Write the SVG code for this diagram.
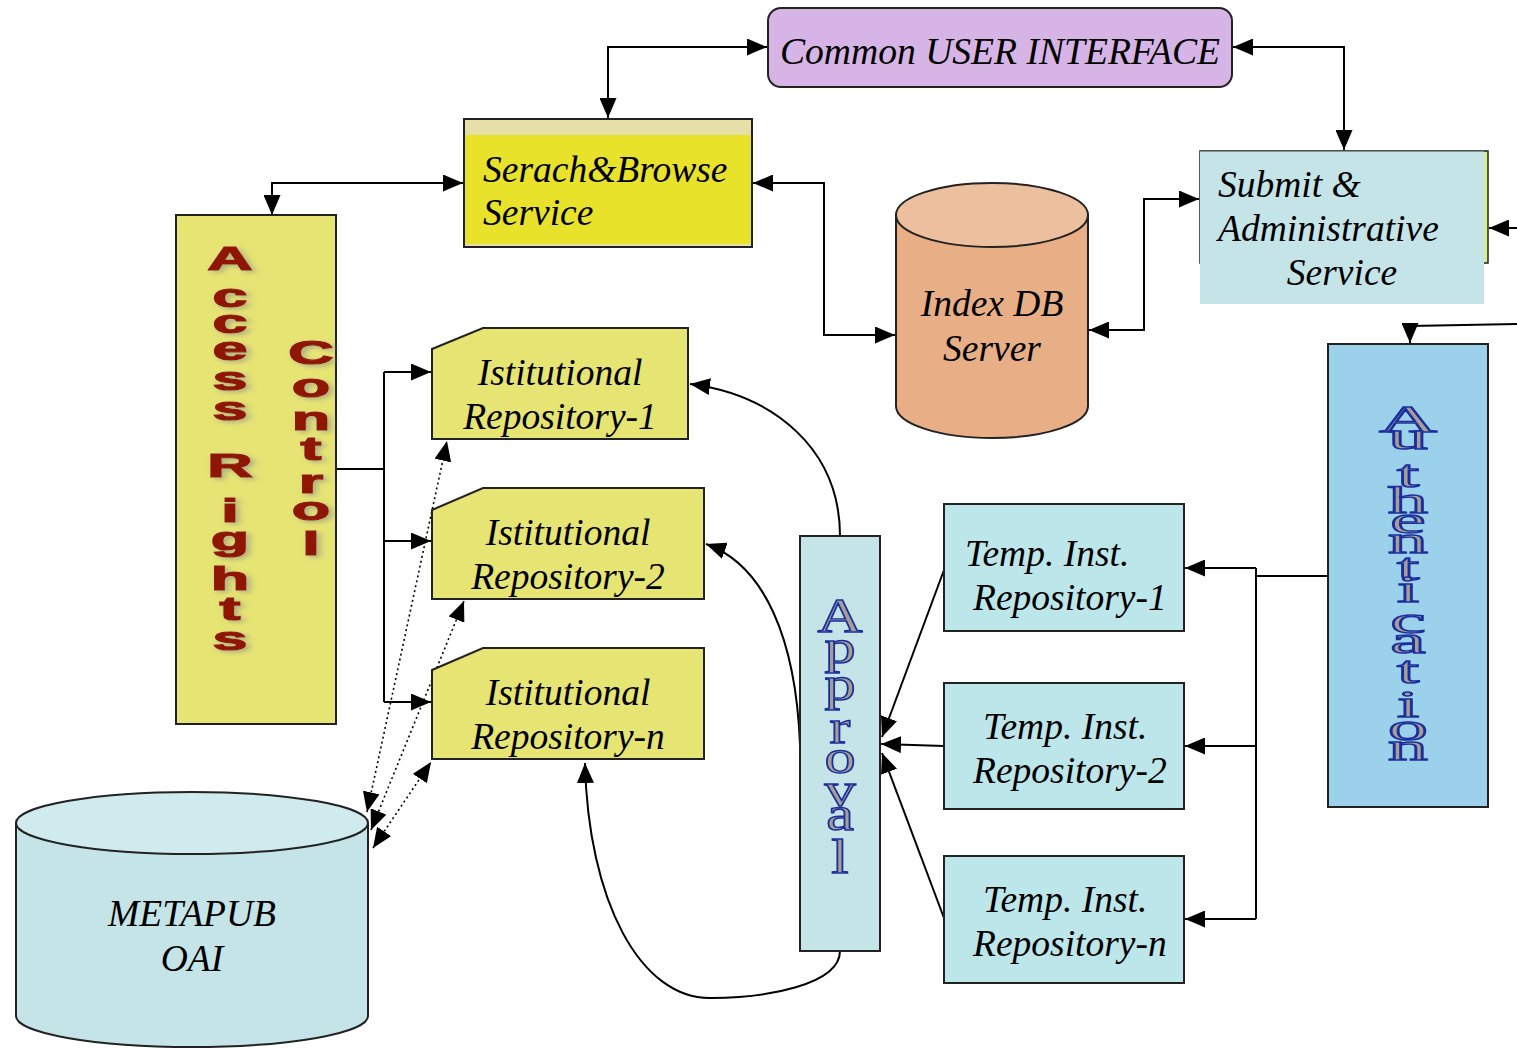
<svg xmlns="http://www.w3.org/2000/svg" width="1517" height="1048" viewBox="0 0 1517 1048">
<style>
.lbl{font-family:"Liberation Serif",serif;font-style:italic;font-size:37.5px;fill:#000}
.edge{fill:none;stroke:#000;stroke-width:2}
.dot{fill:none;stroke:#000;stroke-width:1.6;stroke-dasharray:2 3}
.box{stroke:#222;stroke-width:2}
.acr{font-family:"Liberation Sans",sans-serif;font-weight:bold;font-size:34px;fill:#8f1500;stroke:#8f1500;stroke-width:1.2;text-anchor:middle;filter:url(#sh)}
.fancy{font-family:"Liberation Serif",serif;fill:#a89e92;stroke:#1a2ea0;stroke-width:1.4;text-anchor:middle}
</style>
<defs>
<marker id="ah" viewBox="0 0 20 17" refX="20" refY="8.5" markerWidth="20" markerHeight="17" markerUnits="userSpaceOnUse" orient="auto-start-reverse">
<path d="M0,0 L20,8.5 L0,17 z" fill="#000"/>
</marker>
<filter id="sh" x="-30%" y="-30%" width="160%" height="160%">
<feDropShadow dx="2" dy="2" stdDeviation="2" flood-color="#888" flood-opacity="0.6"/>
</filter>
</defs>
<rect width="1517" height="1048" fill="#fff"/>

<g id="connectors">
<polyline class="edge" points="608,118 608,47 767,47" marker-start="url(#ah)" marker-end="url(#ah)"/>
<polyline class="edge" points="1233,47 1344,47 1344,150" marker-start="url(#ah)" marker-end="url(#ah)"/>
<polyline class="edge" points="272,215 272,183 463,183" marker-start="url(#ah)" marker-end="url(#ah)"/>
<polyline class="edge" points="753,183 824,183 824,335 895,335" marker-start="url(#ah)" marker-end="url(#ah)"/>
<polyline class="edge" points="1089,330 1144,330 1144,199 1199,199" marker-start="url(#ah)" marker-end="url(#ah)"/>
<polyline class="edge" points="1517,228 1489,228" marker-end="url(#ah)"/>
<polyline class="edge" points="1517,324 1410,326 1410,343" marker-end="url(#ah)"/>
<polyline class="edge" points="336,469 384,469"/>
<polyline class="edge" points="384,372 384,702"/>
<polyline class="edge" points="384,372 431,372" marker-end="url(#ah)"/>
<polyline class="edge" points="384,541 431,541" marker-end="url(#ah)"/>
<polyline class="edge" points="384,702 431,702" marker-end="url(#ah)"/>
<line class="dot" x1="367" y1="812" x2="447" y2="441" marker-start="url(#ah)" marker-end="url(#ah)"/>
<line class="dot" x1="371" y1="830" x2="464" y2="601" marker-start="url(#ah)" marker-end="url(#ah)"/>
<line class="dot" x1="373" y1="848" x2="431" y2="762" marker-start="url(#ah)" marker-end="url(#ah)"/>
<path class="edge" d="M840,536 C840,450 775,395 690,384" marker-end="url(#ah)"/>
<path class="edge" d="M800,745 C796,640 765,565 706,544" marker-end="url(#ah)"/>
<path class="edge" d="M840,951 C840,985 765,998 712,998 C640,1000 588,900 585,763" marker-end="url(#ah)"/>
<line class="edge" x1="944" y1="570" x2="882" y2="737" marker-end="url(#ah)"/>
<line class="edge" x1="944" y1="746" x2="881" y2="744" marker-end="url(#ah)"/>
<line class="edge" x1="944" y1="918" x2="882" y2="753" marker-end="url(#ah)"/>
<polyline class="edge" points="1328,576 1256,576"/>
<polyline class="edge" points="1256,568 1256,919"/>
<polyline class="edge" points="1256,568 1185,568" marker-end="url(#ah)"/>
<polyline class="edge" points="1256,746 1185,746" marker-end="url(#ah)"/>
<polyline class="edge" points="1256,919 1185,919" marker-end="url(#ah)"/>
</g>

<g id="common-ui">
<rect x="768" y="8" width="464" height="79" rx="13" fill="#d6b5e6" class="box"/>
<text class="lbl" x="780" y="64" font-size="44" textLength="440" lengthAdjust="spacingAndGlyphs">Common USER INTERFACE</text>
</g>

<g id="search-browse">
<rect x="464" y="119" width="288" height="128" fill="#e6dfa8" class="box"/>
<rect x="465" y="135" width="286" height="109" fill="#e8e22a"/>
<text class="lbl" x="483" y="182">Serach&amp;Browse</text>
<text class="lbl" x="483" y="225">Service</text>
</g>

<g id="index-db">
<path d="M896,215 L896,406 A96,32 0 0 0 1088,406 L1088,215" fill="#e8ae85" class="box"/>
<ellipse cx="992" cy="215" rx="96" ry="32" fill="#ecc09e" class="box"/>
<text class="lbl" x="992" y="316" text-anchor="middle">Index DB</text>
<text class="lbl" x="992" y="361" text-anchor="middle">Server</text>
</g>

<g id="submit-admin">
<rect x="1200" y="151" width="288" height="112" fill="#d4ed8c" stroke="#222" stroke-width="1.5"/>
<rect x="1200" y="151" width="284" height="153" fill="#c5e4e8"/>
<line x1="1200" y1="151" x2="1488" y2="151" stroke="#444" stroke-width="1"/>
<text class="lbl" x="1218" y="197">Submit &amp;</text>
<text class="lbl" x="1218" y="241">Administrative</text>
<text class="lbl" x="1342" y="285" text-anchor="middle">Service</text>
</g>

<g id="access-rights">
<rect x="176" y="215" width="160" height="509" fill="#e6e473" class="box"/>
<g transform="translate(230,0) scale(1.85,1)">
<text class="acr"><tspan x="0" y="270">A</tspan><tspan x="0" y="307">c</tspan><tspan x="0" y="333">c</tspan><tspan x="0" y="360">e</tspan><tspan x="0" y="390">s</tspan><tspan x="0" y="420">s</tspan><tspan x="0" y="477">R</tspan><tspan x="0" y="522">i</tspan><tspan x="0" y="550">g</tspan><tspan x="0" y="590">h</tspan><tspan x="0" y="620">t</tspan><tspan x="0" y="650">s</tspan></text>
</g>
<g transform="translate(311,0) scale(1.85,1)">
<text class="acr"><tspan x="0" y="364">C</tspan><tspan x="0" y="397">o</tspan><tspan x="0" y="430">n</tspan><tspan x="0" y="460">t</tspan><tspan x="0" y="493">r</tspan><tspan x="0" y="520">o</tspan><tspan x="0" y="555">l</tspan></text>
</g>
</g>

<g id="ir-1">
<path d="M432,349 L483,328 L688,328 L688,439 L432,439 z" fill="#e6e473" class="box"/>
<text class="lbl" x="560" y="385" text-anchor="middle">Istitutional</text>
<text class="lbl" x="560" y="429" text-anchor="middle">Repository-1</text>
</g>
<g id="ir-2">
<path d="M432,510 L483,488 L704,488 L704,599 L432,599 z" fill="#e6e473" class="box"/>
<text class="lbl" x="568" y="545" text-anchor="middle">Istitutional</text>
<text class="lbl" x="568" y="589" text-anchor="middle">Repository-2</text>
</g>
<g id="ir-n">
<path d="M432,670 L483,648 L704,648 L704,759 L432,759 z" fill="#e6e473" class="box"/>
<text class="lbl" x="568" y="705" text-anchor="middle">Istitutional</text>
<text class="lbl" x="568" y="749" text-anchor="middle">Repository-n</text>
</g>

<g id="metapub">
<path d="M16,823 L16,1016 A176,31 0 0 0 368,1016 L368,823" fill="#c5e4e8" class="box"/>
<ellipse cx="192" cy="823" rx="176" ry="31" fill="#d0ebee" class="box"/>
<text class="lbl" x="192" y="926" text-anchor="middle">METAPUB</text>
<text class="lbl" x="192" y="971" text-anchor="middle">OAI</text>
</g>

<g id="approval">
<rect x="800" y="536" width="80" height="415" fill="#c5e4e8" class="box"/>
<g transform="translate(840,0) scale(1.3,1)">
<text class="fancy" font-size="48"><tspan x="0" y="632">A</tspan><tspan x="0" y="663">p</tspan><tspan x="0" y="700">p</tspan><tspan x="0" y="743">r</tspan><tspan x="0" y="773">o</tspan><tspan x="0" y="806">v</tspan><tspan x="0" y="830">a</tspan><tspan x="0" y="873">l</tspan></text>
</g>
</g>

<g id="temp-1">
<rect x="944" y="504" width="240" height="127" fill="#bde6ea" class="box"/>
<text class="lbl" x="965" y="566">Temp. Inst.</text>
<text class="lbl" x="973" y="610">Repository-1</text>
</g>
<g id="temp-2">
<rect x="944" y="683" width="240" height="126" fill="#bde6ea" class="box"/>
<text class="lbl" x="983" y="739">Temp. Inst.</text>
<text class="lbl" x="973" y="783">Repository-2</text>
</g>
<g id="temp-n">
<rect x="944" y="856" width="240" height="127" fill="#bde6ea" class="box"/>
<text class="lbl" x="983" y="912">Temp. Inst.</text>
<text class="lbl" x="973" y="956">Repository-n</text>
</g>

<g id="authentication">
<rect x="1328" y="344" width="160" height="463" fill="#9bd1ea" class="box"/>
<g transform="translate(1408,0) scale(2.1,1)">
<text class="fancy" font-size="38"><tspan x="0" y="432">A</tspan><tspan x="0" y="449">u</tspan><tspan x="0" y="487">t</tspan><tspan x="0" y="513">h</tspan><tspan x="0" y="533">e</tspan><tspan x="0" y="553">n</tspan><tspan x="0" y="580">t</tspan><tspan x="0" y="602">i</tspan><tspan x="0" y="633">c</tspan><tspan x="0" y="653">a</tspan><tspan x="0" y="683">t</tspan><tspan x="0" y="717">i</tspan><tspan x="0" y="740">o</tspan><tspan x="0" y="760">n</tspan></text>
</g>
</g>
</svg>
